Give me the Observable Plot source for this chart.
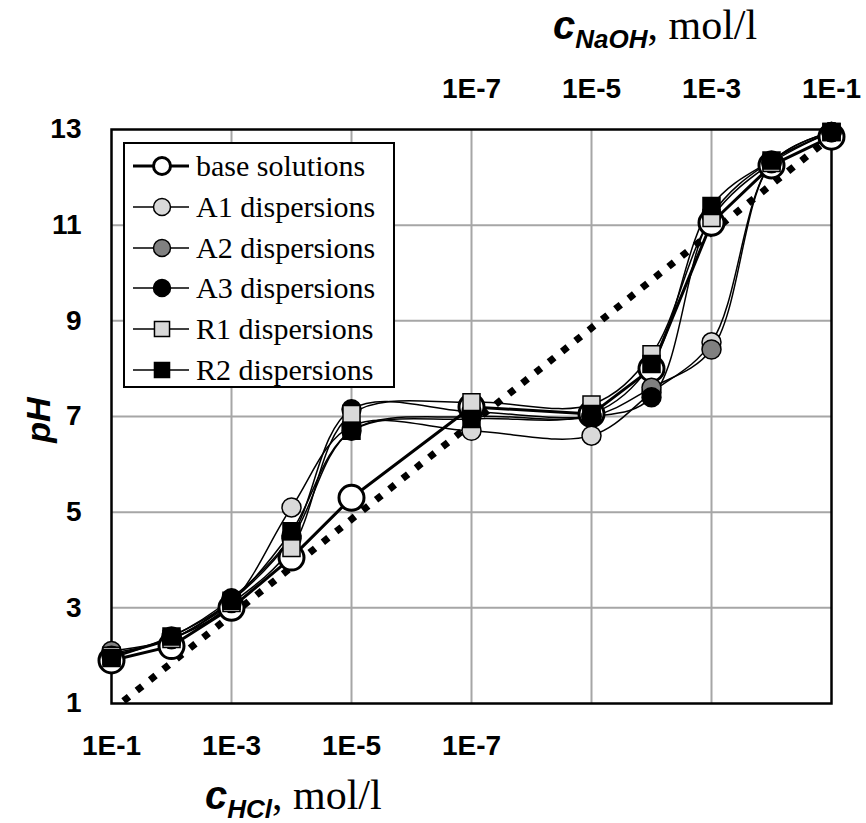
<!DOCTYPE html>
<html><head><meta charset="utf-8">
<script src="https://cdn.jsdelivr.net/npm/d3@7"></script>
<script src="https://cdn.jsdelivr.net/npm/@observablehq/plot@0.6"></script>
<style>
body{margin:0;background:#fff;}
#wrap{position:relative;width:866px;height:823px;overflow:hidden;}
.ttl{position:absolute;white-space:nowrap;line-height:1;}
.c{font-family:"Liberation Sans",Arial,sans-serif;font-weight:bold;font-style:italic;font-size:40px;}
.sub{font-family:"Liberation Sans",Arial,sans-serif;font-weight:bold;font-style:italic;font-size:26px;position:relative;top:9px;}
.unit{font-family:"Liberation Serif","Times New Roman",serif;font-size:42px;}
#ylab{position:absolute;left:38px;top:420px;transform:translate(-50%,-50%) rotate(-90deg);font-family:"Liberation Sans",Arial,sans-serif;font-weight:bold;font-style:italic;font-size:34px;line-height:1;white-space:nowrap;}
#legend{position:absolute;left:123px;top:142px;width:268px;height:242px;border:2px solid #000;background:#fff;}
.row{position:absolute;left:0;height:40px;display:flex;align-items:center;}
.row svg{display:block;}
.row span{font-family:"Liberation Serif","Times New Roman",serif;font-size:30px;margin-left:5px;white-space:nowrap;}
</style></head><body><div id="wrap"></div>
<script>
// x positions: index of concentration (HCl 1E-1 ... 1E-5, neutral 1E-7, NaOH 1E-5 ... 1E-1)
const xIdx = [0, 1, 2, 3, 4, 6, 8, 9, 10, 11, 12];
const base = [1.9, 2.2, 3.0, 4.05, 5.3, 7.2, 7.05, 8.0, 11.05, 12.25, 12.85];
const a1   = [2.05, 2.35, 3.1, 5.1, 6.8, 6.7, 6.6, 7.5, 8.55, 12.3, 12.95];
const a2   = [2.1, 2.35, 3.15, 4.45, 6.7, 7.0, 7.0, 7.6, 8.4, 12.3, 12.95];
const a3   = [2.0, 2.4, 3.2, 4.5, 7.15, 7.1, 7.0, 7.4, 11.2, 12.35, 12.95];
const r1   = [2.0, 2.35, 3.1, 4.25, 7.05, 7.3, 7.25, 8.3, 11.15, 12.3, 12.95];
const r2   = [1.95, 2.4, 3.15, 4.6, 6.7, 6.95, 7.05, 8.1, 11.4, 12.35, 12.95];
// theoretical dotted line
const idealX = [0.2, 12];
const idealPH = [1.05, 12.85];
// tick labels
const hclTicks = [0, 2, 4, 6];
const hclLabels = ["1E-1", "1E-3", "1E-5", "1E-7"];
const naohTicks = [6, 8, 10, 12];
const naohLabels = ["1E-7", "1E-5", "1E-3", "1E-1"];
const phTicks = [1, 3, 5, 7, 9, 11, 13];
const seriesNames = ["base solutions", "A1 dispersions", "A2 dispersions", "A3 dispersions", "R1 dispersions", "R2 dispersions"];
const seriesValues = [base, a1, a2, a3, r1, r2];

const styles = [
  {symbol: "circle", fill: "#fff", r: 12.5, sw: 3, lw: 3, curve: "linear", lr: 8.5},
  {symbol: "circle", fill: "#d9d9d9", r: 9.5, sw: 1.5, lw: 1.5, curve: "catmull-rom", lr: 8.5},
  {symbol: "circle", fill: "#808080", r: 9.5, sw: 1.5, lw: 1.5, curve: "catmull-rom", lr: 8.5},
  {symbol: "circle", fill: "#000", r: 9.5, sw: 1.5, lw: 1.5, curve: "catmull-rom", lr: 8.5},
  {symbol: "square", fill: "#d9d9d9", r: 9.6, sw: 1.5, lw: 1.5, curve: "catmull-rom", lr: 8.5},
  {symbol: "square", fill: "#000", r: 9.6, sw: 1.5, lw: 1.5, curve: "catmull-rom", lr: 8.5}
];

const data = seriesNames.map((name, k) => xIdx.map((x, i) => ({series: name, x, pH: seriesValues[k][i]})));
const ideal = idealX.map((x, i) => ({x, pH: idealPH[i]}));

const marks = [
  Plot.gridX([2, 4, 6, 8, 10], {stroke: "#a6a6a6", strokeOpacity: 1, strokeWidth: 2}),
  Plot.gridY([3, 5, 7, 9, 11], {stroke: "#a6a6a6", strokeOpacity: 1, strokeWidth: 2}),
  Plot.frame({stroke: "#000", strokeWidth: 2.5}),
  Plot.line(ideal, {x: "x", y: "pH", stroke: "#000", strokeWidth: 7, strokeDasharray: "7,10", strokeLinecap: "butt"})
];
data.forEach((d, k) => {
  marks.push(Plot.line(d, {x: "x", y: "pH", stroke: "#000", strokeWidth: styles[k].lw, curve: styles[k].curve}));
});
data.forEach((d, k) => {
  const s = styles[k];
  marks.push(Plot.dot(d, {x: "x", y: "pH", symbol: () => s.symbol, r: s.r, fill: s.fill, stroke: "#000", strokeWidth: s.sw}));
});
marks.push(
  Plot.axisY(phTicks, {tickSize: 0, tickPadding: 30, fontSize: 28, fontWeight: "bold", label: null}),
  Plot.axisX(hclTicks, {anchor: "bottom", tickSize: 0, tickPadding: 32, fontSize: 28, fontWeight: "bold", label: null, tickFormat: d => hclLabels[hclTicks.indexOf(d)]}),
  Plot.axisX(naohTicks, {anchor: "top", tickSize: 0, tickPadding: 32, fontSize: 28, fontWeight: "bold", label: null, tickFormat: d => naohLabels[naohTicks.indexOf(d)]})
);

const chart = Plot.plot({
  width: 866, height: 823,
  marginLeft: 111, marginRight: 35, marginTop: 129, marginBottom: 120,
  x: {domain: [0, 12], label: null},
  y: {domain: [1, 13], label: null},
  symbol: {type: "identity"},
  style: {fontFamily: "'Liberation Sans', Arial, sans-serif", color: "#000", background: "#fff", overflow: "visible"},
  marks
});
const wrap = document.getElementById("wrap");
wrap.appendChild(chart);

// axis titles
const topTitle = document.createElement("div");
topTitle.className = "ttl";
topTitle.style.left = "553px"; topTitle.style.top = "4px";
topTitle.innerHTML = '<span class="c">c</span><span class="sub">NaOH</span><span class="unit">, mol/l</span>';
wrap.appendChild(topTitle);
const botTitle = document.createElement("div");
botTitle.className = "ttl";
botTitle.style.left = "205px"; botTitle.style.top = "774px";
botTitle.innerHTML = '<span class="c">c</span><span class="sub">HCl</span><span class="unit">, mol/l</span>';
wrap.appendChild(botTitle);
const yl = document.createElement("div");
yl.id = "ylab"; yl.textContent = "pH";
wrap.appendChild(yl);

// legend
const leg = document.createElement("div");
leg.id = "legend";
seriesNames.forEach((name, k) => {
  const s = styles[k];
  const row = document.createElement("div");
  row.className = "row";
  row.style.top = (2 + k * 40.8) + "px";
  const svg = d3.create("svg").attr("width", 66).attr("height", 40);
  svg.append("line").attr("x1", 8).attr("x2", 64).attr("y1", 20).attr("y2", 20).attr("stroke", "#000").attr("stroke-width", s.lw);
  const sym = s.symbol === "circle" ? d3.symbolCircle : d3.symbolSquare;
  svg.append("path").attr("d", d3.symbol(sym, Math.PI * s.lr * s.lr)()).attr("transform", "translate(37,20)")
    .attr("fill", s.fill).attr("stroke", "#000").attr("stroke-width", s.sw);
  row.appendChild(svg.node());
  const t = document.createElement("span");
  t.textContent = name;
  row.appendChild(t);
  leg.appendChild(row);
});
wrap.appendChild(leg);
</script>
</body></html>
